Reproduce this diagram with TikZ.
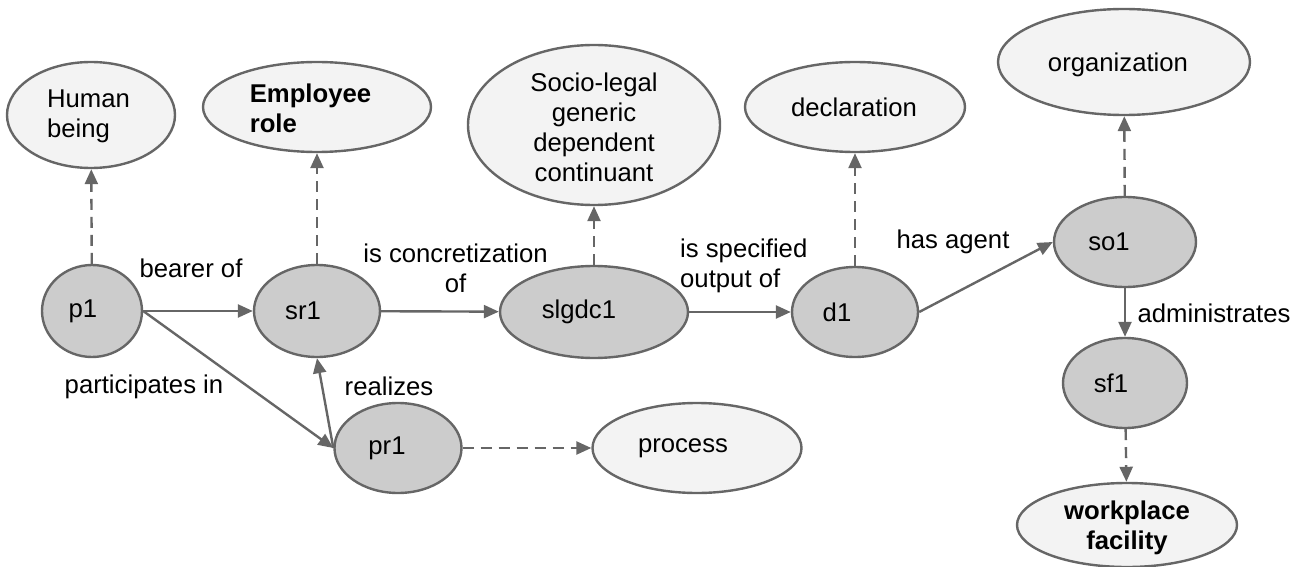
\documentclass[tikz,border=0pt]{standalone}
\usepackage{fontspec}
\setmainfont{Liberation Sans}
\usetikzlibrary{shapes.geometric,arrows.meta}
\definecolor{edgegray}{HTML}{666666}
\definecolor{darkfill}{HTML}{CCCCCC}
\definecolor{lightfill}{HTML}{F3F3F3}
\tikzset{
  inst/.style={ellipse, draw=edgegray, line width=2.4pt, fill=darkfill, inner sep=0pt},
  cls/.style={ellipse, draw=edgegray, line width=2.4pt, fill=lightfill, inner sep=0pt},
  intext/.style={inner sep=0pt, align=left},
  rel/.style={draw=edgegray, line width=2.4pt, -{Triangle[length=15pt,width=13pt]}},
  typ/.style={rel, dash pattern=on 11pt off 7pt},
  lbl/.style={inner sep=0pt, align=center},
  boldtext/.style={font=\fontsize{25.7}{30}\selectfont\bfseries},
}
\begin{document}
\begin{tikzpicture}[x=1pt,y=-1pt,font=\fontsize{25.7}{30}\selectfont]
\useasboundingbox (0,0) rectangle (1302,567);
% class nodes
\node[cls, minimum width=168pt, minimum height=106pt,
  label={[intext, xshift=-2.5pt, yshift=-1pt]center:Human\\being}] (human) at (91,115) {};
\node[cls, minimum width=228pt, minimum height=90pt,
  label={[intext, boldtext, xshift=-6.5pt, yshift=-1pt]center:Employee\\role}] (emp) at (317,107) {};
\node[cls, minimum width=252pt, minimum height=160pt,
  label={[intext, align=center, yshift=-2pt]center:Socio-legal\\generic\\dependent\\continuant}] (slg) at (594,125) {};
\node[cls, minimum width=220pt, minimum height=90pt,
  label={[intext, xshift=-1pt]center:declaration}] (decl) at (855,107) {};
\node[cls, minimum width=252pt, minimum height=106pt,
  label={[intext, xshift=-6pt, yshift=-3pt]center:organization}] (org) at (1124,62) {};
\node[cls, minimum width=209pt, minimum height=90pt,
  label={[intext, xshift=-14pt]center:process}] (proc) at (697,448) {};
\node[cls, minimum width=220pt, minimum height=84pt,
  label={[intext, align=center, boldtext, yshift=-3pt]center:workplace\\facility}] (work) at (1127,525) {};
% instance nodes
\node[inst, minimum width=100pt, minimum height=92pt,
  label={[intext, xshift=-9pt]center:p1}] (p1) at (92,311) {};
\node[inst, minimum width=126pt, minimum height=92pt,
  label={[intext, xshift=-14pt]center:sr1}] (sr1) at (317,311) {};
\node[inst, minimum width=188pt, minimum height=92pt,
  label={[intext, xshift=-15pt]center:slgdc1}] (slgdc1) at (594,312) {};
\node[inst, minimum width=126pt, minimum height=90pt,
  label={[intext, xshift=-18pt]center:d1}] (d1) at (855,312) {};
\node[inst, minimum width=142pt, minimum height=90pt,
  label={[intext, xshift=-16pt]center:so1}] (so1) at (1125,242) {};
\node[inst, minimum width=124pt, minimum height=90pt,
  label={[intext, xshift=-14pt]center:sf1}] (sf1) at (1125,383) {};
\node[inst, minimum width=127pt, minimum height=90pt,
  label={[intext, xshift=-11pt]center:pr1}] (pr1) at (398,448) {};
% typing (dashed) connectors
\draw[typ] (p1) -- (human);
\draw[typ] (sr1) -- (emp);
\draw[typ] (slgdc1) -- (slg);
\draw[typ] (d1) -- (decl);
\draw[typ] (so1) -- (org);
\draw[typ] (pr1) -- (proc);
\draw[typ] (sf1) -- (work);
% relations
\draw[rel] (p1) -- (sr1);
\draw[rel] (p1.east) -- (pr1.west);
\draw[rel] (pr1.west) -- (sr1.south);
\draw[rel] (sr1) -- (slgdc1);
\draw[rel] (slgdc1) -- (d1);
\draw[rel] (d1.east) -- (so1.west);
\draw[rel] (so1) -- (sf1);
% labels
\node[lbl] (lbearer) at (191,268) {bearer of};
\node[lbl] (lpart) at (144,387) {participates in};
\node[lbl] (lreal) at (389,386) {realizes};
\node[lbl] (lconc) at (455.5,268) {is concretization\\of};
\node[lbl, align=left, anchor=west] (lspec) at (680,266) {is specified\\output of};
\node[lbl] (lagent) at (953,242) {has agent};
\node[lbl] (ladmin) at (1214,313) {administrates};
\end{tikzpicture}
\end{document}
